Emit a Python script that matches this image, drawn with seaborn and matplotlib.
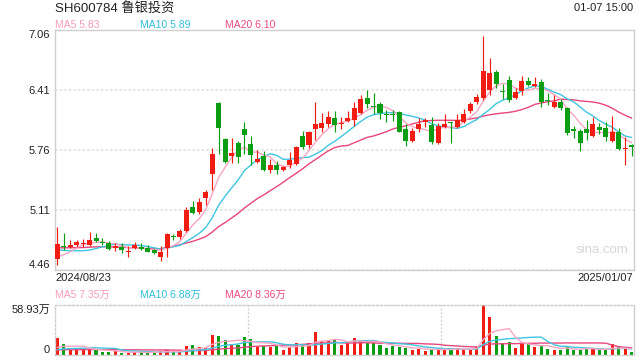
import numpy as np
import pandas as pd
import matplotlib
matplotlib.use("Agg")
import matplotlib.pyplot as plt
import seaborn as sns

# ---------------- data ----------------
title = "SH600784 鲁银投资"
timestamp = "01-07 15:00"
start_date = "2024/08/23"
end_date = "2025/01/07"
watermark = "sina.com"
price_ticks = [4.46, 5.11, 5.76, 6.41, 7.06]
vol_ticks = [0, 58.93]
vol_tick_labels = ["0", "58.93万"]
ma_labels = ["MA5 5.83", "MA10 5.89", "MA20 6.10"]
vol_ma_labels = ["MA5 7.35万", "MA10 6.88万", "MA20 8.36万"]

open_ = [4.58, 4.72, 4.71, 4.73, 4.74, 4.73, 4.81, 4.76, 4.75, 4.70,
         4.71, 4.66, 4.70, 4.71, 4.70, 4.68, 4.60, 4.70, 4.83, 4.82,
         4.88, 5.14, 5.09, 5.24, 5.50, 6.27, 5.88, 5.70, 5.84, 5.99,
         5.83, 5.63, 5.70, 5.54, 5.60, 5.54, 5.60, 5.61, 5.91, 5.81,
         5.99, 6.00, 6.04, 6.11, 6.04, 6.07, 6.08, 6.16, 6.32, 6.24,
         6.26, 6.15, 6.15, 6.17, 5.99, 5.86, 5.99, 6.06, 6.03, 5.84,
         6.01, 6.06, 6.01, 6.06, 6.18, 6.28, 6.32, 6.41, 6.60, 6.40,
         6.52, 6.32, 6.40, 6.51, 6.45, 6.50, 6.30, 6.23, 6.28, 6.22,
         5.99, 5.97, 5.99, 5.91, 6.01, 6.00, 5.86, 5.95, 5.77, 5.81]
high = [4.93, 4.86, 4.79, 4.79, 4.80, 4.87, 4.86, 4.81, 4.77, 4.75,
        4.75, 4.72, 4.76, 4.75, 4.73, 4.69, 4.72, 4.86, 4.85, 4.90,
        5.14, 5.21, 5.24, 5.33, 5.78, 6.28, 5.89, 5.89, 5.86, 6.06,
        5.91, 5.76, 5.75, 5.66, 5.64, 5.59, 5.74, 5.80, 5.97, 5.97,
        6.28, 6.16, 6.18, 6.18, 6.12, 6.18, 6.28, 6.36, 6.41, 6.38,
        6.28, 6.19, 6.19, 6.18, 6.04, 6.00, 6.11, 6.11, 6.12, 6.05,
        6.15, 6.06, 6.15, 6.20, 6.28, 6.37, 7.00, 6.76, 6.63, 6.48,
        6.56, 6.43, 6.56, 6.55, 6.55, 6.53, 6.38, 6.36, 6.31, 6.23,
        6.02, 5.99, 6.08, 6.12, 6.05, 6.06, 6.13, 6.00, 5.90, 5.83]
low = [4.51, 4.68, 4.70, 4.71, 4.71, 4.72, 4.76, 4.73, 4.68, 4.67,
       4.64, 4.60, 4.69, 4.68, 4.65, 4.63, 4.56, 4.60, 4.79, 4.80,
       4.87, 5.07, 5.07, 5.16, 5.33, 5.72, 5.62, 5.62, 5.62, 5.72,
       5.60, 5.62, 5.53, 5.51, 5.50, 5.53, 5.57, 5.60, 5.77, 5.78,
       5.87, 5.96, 6.01, 5.95, 5.99, 6.06, 6.02, 6.15, 6.22, 6.15,
       6.10, 6.06, 6.07, 5.95, 5.80, 5.85, 5.96, 6.01, 5.83, 5.83,
       6.00, 5.84, 6.00, 6.05, 6.16, 6.26, 6.30, 6.36, 6.43, 6.31,
       6.28, 6.31, 6.36, 6.45, 6.44, 6.23, 6.25, 6.21, 6.19, 5.92,
       5.89, 5.75, 5.87, 5.90, 5.93, 5.86, 5.85, 5.76, 5.60, 5.70]
close = [4.74, 4.71, 4.73, 4.76, 4.75, 4.79, 4.77, 4.75, 4.69, 4.72,
         4.68, 4.67, 4.73, 4.69, 4.66, 4.64, 4.65, 4.85, 4.82, 4.88,
         5.11, 5.08, 5.20, 5.31, 5.72, 6.00, 5.63, 5.73, 5.68, 5.92,
         5.71, 5.66, 5.54, 5.60, 5.54, 5.58, 5.65, 5.79, 5.79, 5.96,
         6.04, 6.05, 6.12, 6.03, 6.05, 6.11, 6.22, 6.31, 6.26, 6.23,
         6.16, 6.14, 6.14, 5.96, 5.86, 5.97, 6.04, 6.08, 5.85, 6.02,
         6.04, 6.05, 6.08, 6.15, 6.26, 6.33, 6.62, 6.59, 6.48, 6.39,
         6.30, 6.39, 6.51, 6.46, 6.48, 6.28, 6.29, 6.28, 6.22, 5.94,
         5.97, 5.84, 5.94, 6.04, 5.98, 5.90, 5.95, 5.77, 5.78, 5.79]
volume = [19.8, 12.7, 5.6, 6.4, 6.4, 7.2, 5.6, 3.2, 3.2, 4.0,
          2.4, 2.4, 3.2, 3.2, 2.4, 2.4, 4.8, 5.6, 3.2, 3.2,
          10.3, 11.1, 8.8, 7.9, 23.0, 22.2, 17.4, 11.1, 11.9, 20.6,
          18.3, 9.5, 10.3, 8.8, 11.1, 5.6, 9.5, 13.5, 11.1, 13.5,
          26.9, 15.9, 16.6, 17.4, 11.5, 15.1, 19.8, 16.6, 14.2, 14.2,
          11.5, 7.9, 10.3, 8.8, 7.9, 5.6, 7.2, 4.8, 6.4, 6.4,
          6.3, 6.3, 7.9, 6.3, 6.3, 9.5, 58.93, 44.7, 22.1, 13.4,
          15.5, 7.9, 14.0, 12.2, 9.5, 10.3, 7.1, 5.5, 5.5, 10.3,
          5.2, 6.0, 8.3, 7.1, 5.0, 5.0, 12.6, 8.7, 7.1, 3.2]
# closes / volumes of the 19 sessions before the first visible candle (for the MAs)
prior_close = [4.70, 4.72, 4.74, 4.73, 4.71, 4.70, 4.72, 4.74, 4.73, 4.71,
               4.78, 4.77, 4.76, 4.75, 4.72, 4.60, 4.57, 4.56, 4.55]
prior_volume = [4.2, 5.6, 4.8, 5.3, 4.9, 5.5, 4.6, 5.2, 4.9, 5.0,
                3.5, 3.2, 4.0, 3.4, 3.4, 5.0, 6.0, 5.5, 6.2]

# ---------------- style ----------------
sns.set_style("white")
plt.rcParams["font.family"] = ["Liberation Sans", "Noto Sans CJK SC", "DejaVu Sans"]

RED = "#f11d12"
GREEN = "#0c9e12"
C_MA5 = "#f7a6c3"
C_MA10 = "#3fc5e0"
C_MA20 = "#e9467c"
T_MA5 = "#f59cbd"
T_MA10 = "#2fbcd9"
T_MA20 = "#ec4a80"
BORDER = "#cfcfcf"
GRID = "#dedede"
TXT = "#222222"

W, H = 640, 360
fig = plt.figure(figsize=(6.4, 3.6), dpi=100)
fig.patch.set_facecolor("white")

L, R = 55, 634
ax = fig.add_axes([L / W, 1 - 270 / H, (R - L) / W, 240 / H])
axv = fig.add_axes([L / W, 1 - 354.7 / H, (R - L) / W, 49.7 / H])

n = len(close)
x = np.arange(n)
o = np.array(open_); c = np.array(close); hi = np.array(high); lo = np.array(low)
up = c >= o
colors = np.where(up, RED, GREEN)

full_close = pd.Series(prior_close + close)
ma5 = full_close.rolling(5).mean().to_numpy()[-n:]
ma10 = full_close.rolling(10).mean().to_numpy()[-n:]
ma20 = full_close.rolling(20).mean().to_numpy()[-n:]

full_vol = pd.Series(prior_volume + volume)
vma5 = full_vol.rolling(5).mean().to_numpy()[-n:]
vma10 = full_vol.rolling(10).mean().to_numpy()[-n:]
vma20 = full_vol.rolling(20).mean().to_numpy()[-n:]

xlim = (-0.36, 89.36)

# ---------------- price panel ----------------
for y_, col in [(ma20, C_MA20), (ma10, C_MA10), (ma5, C_MA5)]:
    sns.lineplot(x=x, y=y_, ax=ax, color=col, linewidth=1.0, legend=False, zorder=2)

ax.vlines(x, lo, hi, colors=colors, linewidth=0.85, zorder=3)
body_h = np.maximum(np.abs(c - o), 0.007)
body_b = np.minimum(o, c)
ax.bar(x, body_h, bottom=body_b, width=0.78, color=colors, linewidth=0, zorder=4)

ax.set_xlim(*xlim)
ax.set_ylim(price_ticks[0], price_ticks[-1])
ax.set_yticks(price_ticks)
ax.set_yticklabels([f"{v:.2f}" for v in price_ticks])
ax.set_xticks([])
ax.tick_params(axis="y", length=0, pad=3.5, labelsize=8, labelcolor=TXT)
labs = ax.get_yticklabels()
labs[0].set_va("bottom")
labs[-1].set_va("top")
ax.yaxis.grid(True, color=GRID, linewidth=1.1, linestyle=(0, (1.6, 1.4)))
ax.set_axisbelow(True)
for s in ax.spines.values():
    s.set_color(BORDER)
    s.set_linewidth(1.0)
ax.set_xlabel(""); ax.set_ylabel("")

fig.text(602 / W, 1 - 250 / H, watermark, ha="center", va="center",
         fontsize=9.5, color="#d6d6d6")

# ---------------- volume panel ----------------
axv.bar(x, volume, width=0.48, color=colors, linewidth=0, zorder=2)
for y_, col in [(vma20, C_MA20), (vma10, C_MA10), (vma5, C_MA5)]:
    sns.lineplot(x=x, y=y_, ax=axv, color=col, linewidth=1.0, legend=False, zorder=3)
axv.set_xlim(*xlim)
axv.set_ylim(vol_ticks[0], vol_ticks[-1])
axv.set_yticks(vol_ticks)
axv.set_yticklabels(vol_tick_labels)
axv.set_xticks([])
axv.tick_params(axis="y", length=0, pad=3.5, labelsize=8, labelcolor=TXT)
vl = axv.get_yticklabels()
vl[0].set_va("bottom")
vl[-1].set_va("top")
for key, s in axv.spines.items():
    s.set_color(BORDER)
    s.set_linewidth(1.0)
    if key != "right":
        s.set_linestyle((0, (1.6, 1.4)))
for fr in (1 / 3, 2 / 3):
    axv.plot([fr, fr], [0, 1], transform=axv.transAxes, color=BORDER,
             linewidth=0.9, linestyle=(0, (1.6, 1.4)), zorder=1)
axv.set_xlabel(""); axv.set_ylabel("")

# ---------------- texts ----------------
def ftxt(px, py, s, **kw):
    fig.text(px / W, 1 - py / H, s, **kw)

ftxt(55, 8, title, ha="left", va="center", fontsize=9.5, color=TXT)
ftxt(633, 8, timestamp, ha="right", va="center", fontsize=8, color=TXT)
for px, s, col in zip([55, 140.5, 225.3], ma_labels, [T_MA5, T_MA10, T_MA20]):
    ftxt(px, 24.5, s, ha="left", va="center", fontsize=7.5, color=col)
ftxt(55, 278, start_date, ha="left", va="center", fontsize=8, color=TXT)
ftxt(633, 278, end_date, ha="right", va="center", fontsize=8, color=TXT)
for px, s, col in zip([55, 140.5, 225.3], vol_ma_labels, [T_MA5, T_MA10, T_MA20]):
    ftxt(px, 295, s, ha="left", va="center", fontsize=7.5, color=col)

fig.savefig("out.png", dpi=100, facecolor="white")
